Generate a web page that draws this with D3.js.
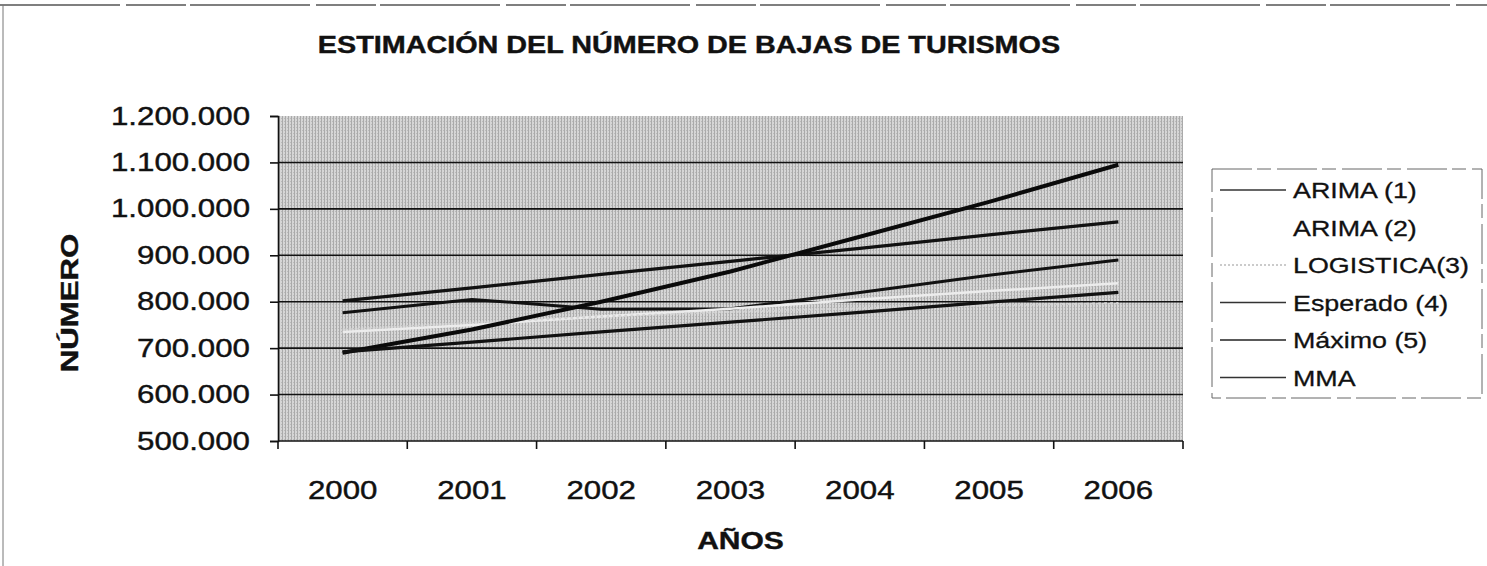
<!DOCTYPE html>
<html>
<head>
<meta charset="utf-8">
<script src="https://cdn.jsdelivr.net/npm/d3@7"></script>
<style>
  body { margin: 0; background: #fff; }
  svg { display: block; font-family: "Liberation Sans", Arial, sans-serif; }
</style>
</head>
<body>
<svg id="chart" width="1487" height="566"></svg>
<script>
// data
const years = ['2000', '2001', '2002', '2003', '2004', '2005', '2006'];
const yTicks = [500000, 600000, 700000, 800000, 900000, 1000000, 1100000, 1200000];
const arima1 = [776000, 805000, 784000, 785000, 820000, 857000, 890000];
const arima2 = [735000, 750000, 768000, 785000, 805000, 823000, 840000];
const logistica = [740000, 755000, 768000, 778000, 786000, 792000, 797000];
const esperado = [802000, 830000, 859000, 887000, 915000, 944000, 972000];
const maximo = [690000, 740000, 800000, 865000, 940000, 1015000, 1095000];
const mma = [692000, 713000, 735000, 756000, 777000, 799000, 820000];

const seriesNames = ['ARIMA (1)', 'ARIMA (2)', 'LOGISTICA(3)', 'Esperado (4)', 'Máximo (5)', 'MMA'];
const seriesValues = [arima1, arima2, logistica, esperado, maximo, mma];

const styles = {
  'ARIMA (1)': { stroke: '#111', width: 3, dash: null, legend: '#333' },
  'ARIMA (2)': { stroke: '#ececec', width: 2.5, dash: null, legend: '#ffffff' },
  'LOGISTICA(3)': { stroke: '#d6d6d6', width: 2, dash: '3,3', legend: '#bbb' },
  'Esperado (4)': { stroke: '#111', width: 3.2, dash: null, legend: '#333' },
  'Máximo (5)': { stroke: '#0a0a0a', width: 4, dash: null, legend: '#222' },
  'MMA': { stroke: '#111', width: 3.2, dash: null, legend: '#333' }
};

const svg = d3.select('#chart');
const plot = { left: 278, right: 1183, top: 116, bottom: 441 };

// stretch text horizontally the way the scan does
function widen(sel, k) {
  sel.each(function () {
    const len = this.getComputedTextLength();
    d3.select(this).attr('textLength', len * k).attr('lengthAdjust', 'spacingAndGlyphs');
  });
}

// page frame left by the scan
svg.append('line').attr('x1', 0).attr('x2', 1487).attr('y1', 5).attr('y2', 5)
  .attr('stroke', '#555').attr('stroke-width', 1.5).attr('stroke-dasharray', '120,6,60,4');
svg.append('line').attr('x1', 3).attr('x2', 3).attr('y1', 5).attr('y2', 566)
  .attr('stroke', '#777').attr('stroke-width', 1);

// halftone-like background for plot area
const defs = svg.append('defs');
const pat = defs.append('pattern').attr('id', 'screen')
  .attr('width', 3).attr('height', 3).attr('patternUnits', 'userSpaceOnUse');
pat.append('rect').attr('width', 3).attr('height', 3).attr('fill', '#d6d6d6');
pat.append('rect').attr('width', 1).attr('height', 3).attr('fill', '#aaaaaa');
pat.append('rect').attr('x', 2).attr('y', 1).attr('width', 1).attr('height', 1).attr('fill', '#bababa');

const x = d3.scaleBand().domain(years).range([plot.left, plot.right]);
const y = d3.scaleLinear().domain([500000, 1200000]).range([plot.bottom, plot.top]);
const cx = d => x(d) + x.bandwidth() / 2;

svg.append('rect')
  .attr('x', plot.left).attr('y', plot.top)
  .attr('width', plot.right - plot.left).attr('height', plot.bottom - plot.top)
  .attr('fill', 'url(#screen)');

// gridlines
svg.append('g')
  .selectAll('line')
  .data(yTicks.filter(v => v > 500000 && v < 1200000))
  .enter()
  .append('line')
  .attr('x1', plot.left).attr('x2', plot.right)
  .attr('y1', d => y(d)).attr('y2', d => y(d))
  .attr('stroke', '#111').attr('stroke-width', 1.6);

// series
const line = d3.line()
  .x((d, i) => cx(years[i]))
  .y(d => y(d));

seriesNames.forEach(function (name, i) {
  const st = styles[name];
  svg.append('path')
    .datum(seriesValues[i])
    .attr('d', line)
    .attr('fill', 'none')
    .attr('stroke', st.stroke)
    .attr('stroke-width', st.width)
    .attr('stroke-dasharray', st.dash)
    .attr('stroke-linejoin', 'round');
});

// y axis
const yAxis = d3.axisLeft(y)
  .tickValues(yTicks)
  .tickSize(8)
  .tickPadding(20)
  .tickFormat(d => d3.format(',')(d).replace(/,/g, '.'));

const gy = svg.append('g')
  .attr('transform', 'translate(' + plot.left + ',0)')
  .call(yAxis);
gy.select('.domain').attr('stroke', '#111').attr('stroke-width', 1.6);
gy.selectAll('.tick line').attr('stroke', '#111').attr('stroke-width', 1.6);
gy.selectAll('.tick text')
  .attr('fill', '#111')
  .attr('stroke', '#111').attr('stroke-width', 0.4)
  .style('font-size', '25px');
widen(gy.selectAll('.tick text'), 1.25);

// x axis: labels centred in bands, ticks between categories
const xAxis = d3.axisBottom(x).tickSize(0).tickPadding(40);
const gx = svg.append('g')
  .attr('transform', 'translate(0,' + plot.bottom + ')')
  .call(xAxis);
gx.select('.domain').remove();
gx.selectAll('.tick text')
  .attr('fill', '#111')
  .attr('stroke', '#111').attr('stroke-width', 0.4)
  .style('font-size', '25px');
widen(gx.selectAll('.tick text'), 1.25);

svg.append('line')
  .attr('x1', plot.left).attr('x2', plot.right)
  .attr('y1', plot.bottom).attr('y2', plot.bottom)
  .attr('stroke', '#111').attr('stroke-width', 1.6);

svg.append('g')
  .selectAll('line')
  .data(years.map(d => x(d)).concat([plot.right]))
  .enter()
  .append('line')
  .attr('x1', d => d).attr('x2', d => d)
  .attr('y1', plot.bottom).attr('y2', plot.bottom + 8)
  .attr('stroke', '#111').attr('stroke-width', 1.6);

// title and axis titles
const title = svg.append('text')
  .attr('x', 689).attr('y', 53)
  .attr('text-anchor', 'middle')
  .style('font-size', '23px').style('font-weight', 'bold').attr('fill', '#111')
  .attr('stroke', '#111').attr('stroke-width', 0.4)
  .text('ESTIMACIÓN DEL NÚMERO DE BAJAS DE TURISMOS');
widen(title, 1.25);

const xTitle = svg.append('text')
  .attr('x', (plot.left + plot.right) / 2 + 10).attr('y', 549)
  .attr('text-anchor', 'middle')
  .style('font-size', '24px').style('font-weight', 'bold').attr('fill', '#111')
  .attr('stroke', '#111').attr('stroke-width', 0.4)
  .text('AÑOS');
widen(xTitle, 1.25);

const yTitle = svg.append('text')
  .attr('transform', 'translate(78,303) rotate(-90)')
  .attr('text-anchor', 'middle')
  .style('font-size', '24px').style('font-weight', 'bold').attr('fill', '#111')
  .attr('stroke', '#111').attr('stroke-width', 0.4)
  .text('NÚMERO');
widen(yTitle, 1.3);

// legend
const legend = svg.append('g').attr('class', 'legend');
legend.append('rect')
  .attr('x', 1212).attr('y', 169)
  .attr('width', 270).attr('height', 229)
  .attr('fill', 'none')
  .attr('stroke', '#666').attr('stroke-width', 1)
  .attr('stroke-dasharray', '40,5,14,6');

seriesNames.forEach(function (name, i) {
  const st = styles[name];
  const ly = 190 + i * 37.5;
  legend.append('line')
    .attr('x1', 1220).attr('x2', 1286)
    .attr('y1', ly).attr('y2', ly)
    .attr('stroke', st.legend)
    .attr('stroke-width', 1.6)
    .attr('stroke-dasharray', st.dash ? '2,2' : null);
  const t = legend.append('text')
    .attr('x', 1293).attr('y', ly + 8)
    .style('font-size', '22px').attr('fill', '#111')
    .attr('stroke', '#111').attr('stroke-width', 0.3)
    .text(name);
  widen(t, 1.22);
});
</script>
</body>
</html>
